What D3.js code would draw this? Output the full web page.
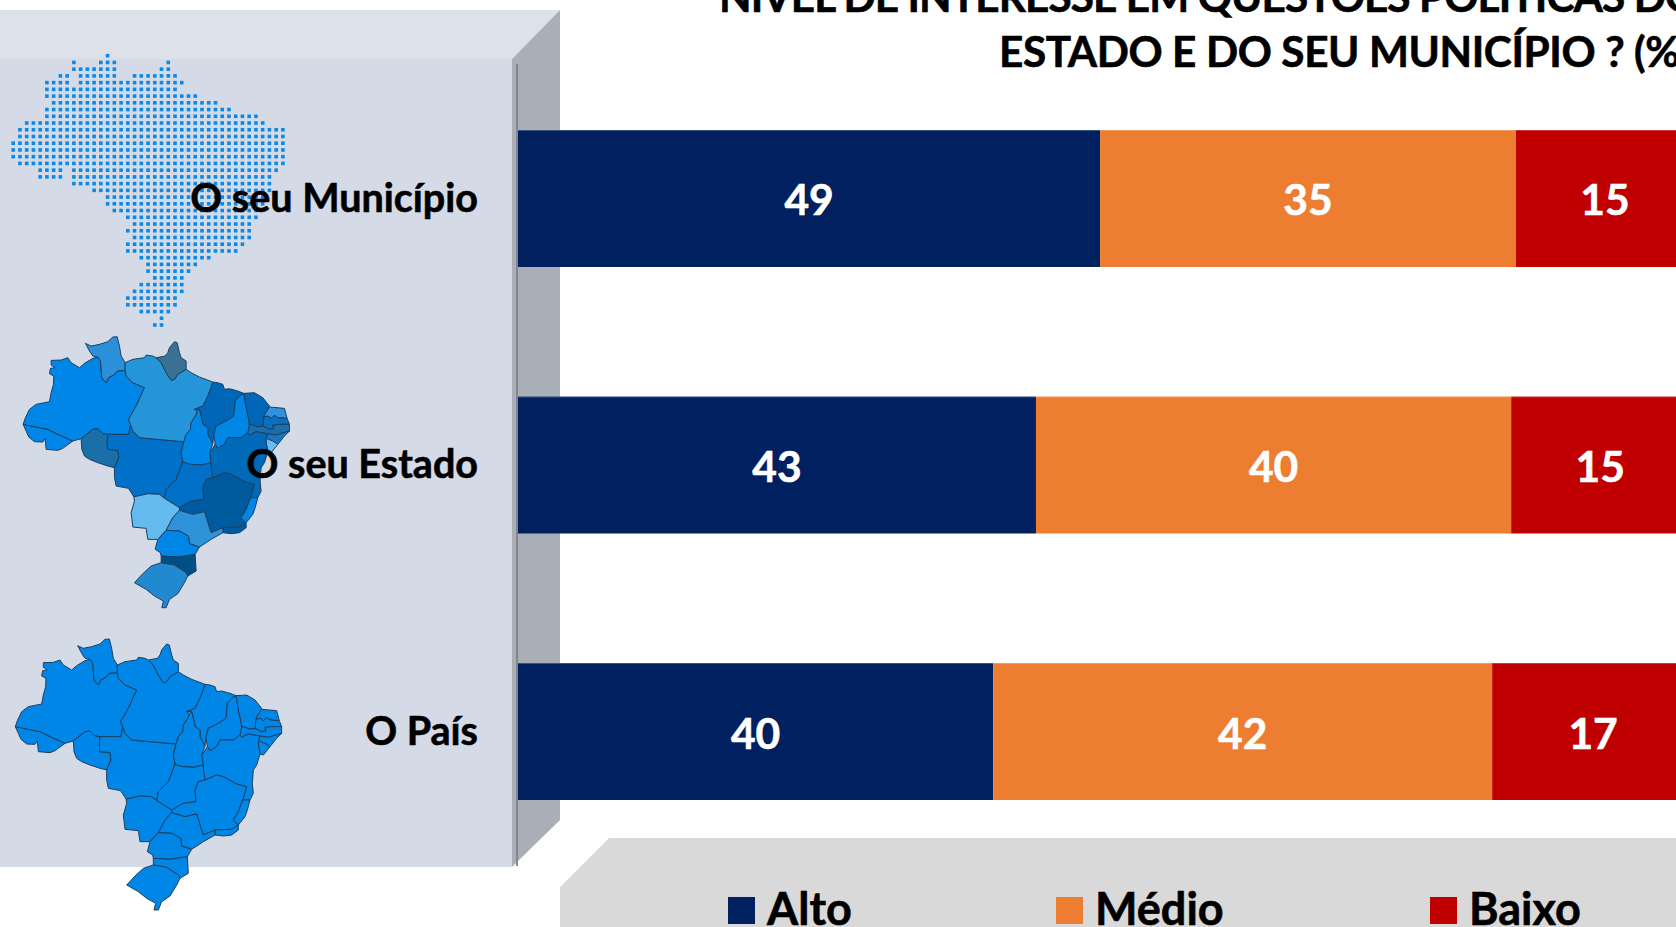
<!DOCTYPE html>
<html><head><meta charset="utf-8">
<script src="https://cdnjs.cloudflare.com/ajax/libs/d3/7.8.5/d3.min.js"></script>
<style>html,body{margin:0;padding:0;background:#fff;overflow:hidden}svg{display:block;font-family:Lato,Carlito,sans-serif}</style>
</head><body><svg id="c" width="1676" height="927"></svg>
<script>
// ---- chart data ----
const categories = ["O seu Município","O seu Estado","O País"];
const seriesNames = ["Alto","Médio","Baixo"];
const seriesColors = ["#002060","#ed7d31","#c00000"];
// bar lengths (the "43" bar is drawn slightly longer than its label)
const alto  = [49, 43.6, 40];
const medio = [35, 40, 42];
const baixo = [15, 15, 17];
const altoLabels  = [49, 43, 40];
const medioLabels = [35, 40, 42];
const baixoLabels = [15, 15, 17];
const titleLines = ["NÍVEL DE INTERESSE EM QUESTÕES POLÍTICAS DO","ESTADO E DO SEU MUNICÍPIO ? (%)"];

// ---- decoration: dotted map rows [row, firstCol, lastCol] ----
const dotRuns = [[0,14,14],[1,9,9],[1,13,15],[1,23,23],[2,9,15],[2,22,23],[3,7,8],[3,10,15],[3,18,24],[4,5,8],[4,10,25],[5,5,24],[6,5,27],[7,6,30],[8,5,32],[9,5,36],[10,2,37],[11,1,40],[12,1,40],[13,0,40],[14,0,40],[15,0,40],[16,1,40],[17,4,7],[17,9,39],[18,4,7],[18,9,38],[19,9,38],[20,12,38],[21,14,37],[22,14,37],[23,15,36],[24,17,36],[25,18,35],[26,17,35],[27,18,35],[28,17,34],[29,17,33],[30,19,29],[31,20,27],[32,20,26],[33,21,25],[34,19,25],[35,18,25],[36,17,24],[37,17,24],[38,19,23],[39,22,22],[40,21,22]];

// ---- decoration: hand traced states (units = 1/3 px) ----
const AC=[[46,290],[80,297],[120,305],[155,322],[195,340],[165,362],[150,368],[115,365],[112,333],[105,343],[80,342],[63,328],[55,310]];
const AM=[[46,290],[52,272],[65,245],[85,230],[125,222],[130,195],[137,170],[138,145],[125,138],[128,122],[142,120],[130,112],[130,98],[160,97],[180,90],[190,105],[215,120],[230,107],[255,92],[270,88],[278,100],[282,150],[295,165],[302,150],[320,140],[328,130],[352,128],[355,145],[375,165],[410,180],[385,235],[362,275],[368,290],[363,320],[300,320],[285,318],[270,303],[255,305],[230,325],[220,333],[195,340],[155,322],[120,305],[80,297]];
const RR=[[270,88],[255,85],[245,70],[233,47],[250,55],[275,50],[300,42],[315,28],[328,27],[335,55],[340,85],[352,105],[352,128],[328,130],[320,140],[302,150],[295,165],[282,150],[278,100]];
const RO=[[220,333],[230,325],[255,305],[270,303],[285,318],[300,320],[298,345],[300,365],[330,368],[333,390],[320,420],[300,415],[270,405],[245,395],[230,385],[222,365]];
const MT=[[300,320],[363,320],[368,290],[375,310],[395,330],[450,335],[528,342],[520,375],[525,400],[515,430],[505,455],[475,485],[470,512],[455,500],[420,498],[390,505],[378,507],[362,482],[325,475],[320,450],[320,420],[333,390],[330,368],[300,365],[298,345]];
const PA=[[352,128],[352,105],[375,95],[410,90],[415,82],[435,85],[445,90],[460,105],[475,135],[490,158],[500,155],[510,140],[535,125],[550,135],[575,148],[615,163],[610,180],[600,205],[585,235],[560,245],[568,250],[565,262],[550,285],[548,305],[535,320],[528,342],[450,335],[395,330],[375,310],[368,290],[362,275],[385,235],[410,180],[375,165],[355,145]];
const AP=[[445,90],[472,85],[480,75],[485,60],[500,42],[508,45],[515,75],[520,90],[535,100],[535,125],[510,140],[500,155],[490,158],[475,135],[460,105]];
const MA=[[615,163],[630,165],[645,170],[650,185],[665,183],[690,190],[708,197],[695,205],[682,220],[678,265],[655,280],[625,295],[618,320],[615,348],[600,320],[600,300],[585,290],[580,265],[575,245],[560,245],[585,235],[600,205],[610,180]];
const PI=[[708,197],[715,240],[722,270],[725,292],[722,315],[700,330],[660,330],[650,350],[630,362],[622,350],[618,320],[625,295],[655,280],[678,265],[682,220],[695,205]];
const CE=[[708,197],[740,195],[765,210],[785,235],[770,262],[765,295],[750,298],[730,290],[725,292],[722,270],[715,240]];
const RN=[[785,238],[830,242],[838,272],[810,270],[800,263],[790,272],[780,265],[768,268],[770,262]];
const PB=[[768,268],[780,265],[790,272],[800,263],[810,270],[838,272],[845,290],[815,290],[795,292],[798,303],[785,305],[765,295]];
const PE=[[845,290],[845,310],[805,322],[780,318],[760,315],[745,312],[725,322],[720,315],[725,292],[730,290],[750,298],[765,295],[785,305],[798,303],[795,292],[815,290]];
const AL=[[845,310],[830,325],[810,350],[795,340],[775,332],[780,318],[805,322]];
const SE=[[810,350],[790,375],[780,372],[775,345],[775,332],[795,340]];
const BA=[[720,315],[725,322],[745,312],[760,315],[780,318],[775,332],[775,345],[780,372],[770,405],[760,420],[757,460],[760,490],[750,510],[728,510],[740,470],[710,462],[670,440],[650,435],[615,450],[610,420],[605,375],[622,350],[630,362],[650,350],[660,330],[700,330]];
const TO=[[575,245],[580,265],[585,290],[600,300],[600,320],[615,348],[605,375],[610,405],[580,412],[550,410],[528,405],[525,400],[520,375],[528,342],[535,320],[548,305],[550,285],[565,262],[568,250]];
const GO=[[525,400],[528,405],[550,410],[580,412],[610,405],[610,420],[615,450],[595,455],[585,480],[588,515],[550,520],[515,540],[470,512],[475,485],[505,455],[515,430]];
const MS=[[378,507],[390,505],[420,498],[455,500],[470,512],[515,540],[515,548],[495,570],[475,608],[450,635],[420,635],[415,602],[375,598],[370,555],[380,520]];
const MG=[[615,450],[650,435],[670,440],[710,462],[740,470],[728,510],[715,545],[700,570],[715,585],[695,598],[645,600],[610,615],[605,600],[590,552],[555,560],[515,548],[515,540],[550,520],[588,515],[585,480],[595,455]];
const ES=[[728,510],[750,510],[742,540],[735,560],[715,585],[700,570],[715,545]];
const RJ=[[715,585],[695,598],[645,600],[645,615],[670,618],[695,615],[715,600]];
const SP=[[515,548],[555,560],[590,552],[605,600],[610,615],[645,600],[645,615],[610,635],[575,658],[545,648],[542,625],[515,610],[475,608],[495,570]];
const PR=[[475,608],[515,610],[542,625],[545,648],[575,658],[562,680],[510,688],[460,685],[458,675],[442,665],[450,635]];
const SC=[[460,685],[510,688],[562,680],[565,730],[540,745],[535,735],[500,712],[460,705]];
const RS=[[460,705],[500,712],[535,735],[540,745],[530,765],[510,798],[485,815],[475,840],[462,840],[467,820],[440,805],[415,785],[380,765],[405,738],[430,715]];
const stateShapes=[AC,AM,RR,RO,MT,PA,AP,MA,PI,CE,RN,PB,PE,AL,SE,BA,TO,GO,MS,MG,ES,RJ,SP,PR,SC,RS];
const stateColors=["#0086e6","#0086e6","#2b90d9","#196fa8","#0070c9","#2595d9","#3a7296","#0066b8","#0086e6","#0066b8","#2e93dc","#0c6fbf","#1a6fa8","#1a76c0","#6abbef","#0069b8","#0086e6","#0070c9","#66bbee","#005a9e","#0086e6","#005aa0","#2d92d8","#0086e6","#004f84","#2089cf"];

const svg=d3.select("#c");
const poly=(pts,fill)=>svg.append("polygon").attr("points",pts.map(p=>p.join(",")).join(" ")).attr("fill",fill);

// 3-D panel
poly([[0,10],[560,10],[512,59],[0,59]],"#dde1e9");
poly([[0,59],[512,59],[512,867],[0,867]],"#d5dbe6");
poly([[512,59],[560,10],[560,820],[518,861],[512,867]],"#a9aeb7");
svg.append("rect").attr("x",516).attr("y",64).attr("width",2).attr("height",802).attr("fill","#85878c");

// maps
const stateLine=d3.line().curve(d3.curveLinearClosed);
function drawMap(tx,ty,fillFor){
  const g=svg.append("g").attr("transform",`translate(${tx},${ty}) scale(${1/3})`);
  g.selectAll("path").data(stateShapes).join("path")
    .attr("d",d=>stateLine(d)).attr("fill",(d,i)=>fillFor(i))
    .attr("stroke","#1d3f60").attr("stroke-width",3).attr("stroke-linejoin","round");
}
drawMap(7.8,327.7,i=>stateColors[i]);
drawMap(0,630,()=> "#0086e6");

const dots=[];
dotRuns.forEach(([r,a,b])=>d3.range(a,b+1).forEach(c=>dots.push([c,r])));
const dotX=d3.scaleLinear().domain([0,40]).range([13.2,282.9]);
const dotY=d3.scaleLinear().domain([0,40]).range([55.7,325]);
svg.append("g").selectAll("rect").data(dots).join("rect")
  .attr("x",d=>dotX(d[0])-1.8).attr("y",d=>dotY(d[1])-1.8).attr("width",3.6).attr("height",3.6).attr("fill","#0a8ae6");

// title
svg.append("g").selectAll("text").data(titleLines).join("text")
  .attr("x",(d,i)=>[719,999][i]).attr("y",(d,i)=>[12,67][i]).attr("letter-spacing",(d,i)=>[-0.9,-0.4][i])
  .attr("font-size",42.3).attr("font-weight",700).attr("fill","#000").attr("stroke","#000").attr("stroke-width",0.6).text(d=>d);

// scales
const x=d3.scaleLinear().domain([0,100]).range([518,1706]);
const y=d3.scaleBand().domain(categories).range([130,800]).paddingInner(0.486).paddingOuter(0);
const series=[alto,medio,baixo];
const seriesLabels=[altoLabels,medioLabels,baixoLabels];

// stacked bars
categories.forEach((cat,ci)=>{
  let acc=0;
  series.forEach((vals,si)=>{
    const v=vals[ci], x0=x(acc), x1=x(acc+v);
    svg.append("rect").attr("x",x0).attr("y",y(cat)).attr("width",x1-x0).attr("height",y.bandwidth()).attr("fill",seriesColors[si]);
    svg.append("rect").attr("x",x0).attr("y",y(cat)).attr("width",x1-x0).attr("height",1).attr("fill","#fff").attr("opacity",0.22);
    svg.append("text").attr("x",(x0+x1)/2).attr("y",y(cat)+y.bandwidth()/2+17)
      .attr("text-anchor","middle").attr("font-size",42.5).attr("font-weight",700).attr("fill","#fff").attr("stroke","#fff").attr("stroke-width",0.6).text(seriesLabels[si][ci]);
    acc+=v;
  });
});

// category axis
const axis=svg.append("g").attr("transform","translate(478,0)").call(d3.axisLeft(y).tickSize(0).tickPadding(0));
axis.select(".domain").remove();
axis.selectAll("text").attr("font-family","Lato,Carlito,sans-serif").attr("font-size",39.5).attr("font-weight",700).attr("fill","#000").attr("stroke","#000").attr("stroke-width",0.6).attr("dy","0.33em");

// legend
poly([[609,838],[1676,838],[1676,927],[560,927],[560,887]],"#d9d9d9");
const legX=d3.scaleOrdinal().domain(seriesNames).range([728,1056,1430]);
const leg=svg.append("g").selectAll("g").data(seriesNames).join("g").attr("transform",d=>`translate(${legX(d)},897)`);
leg.append("rect").attr("width",27).attr("height",27).attr("fill",(d,i)=>seriesColors[i]);
leg.append("text").attr("x",39).attr("y",28).attr("font-size",45).attr("font-weight",700).attr("fill","#000").attr("stroke","#000").attr("stroke-width",0.6).text(d=>d);
</script></body></html>
